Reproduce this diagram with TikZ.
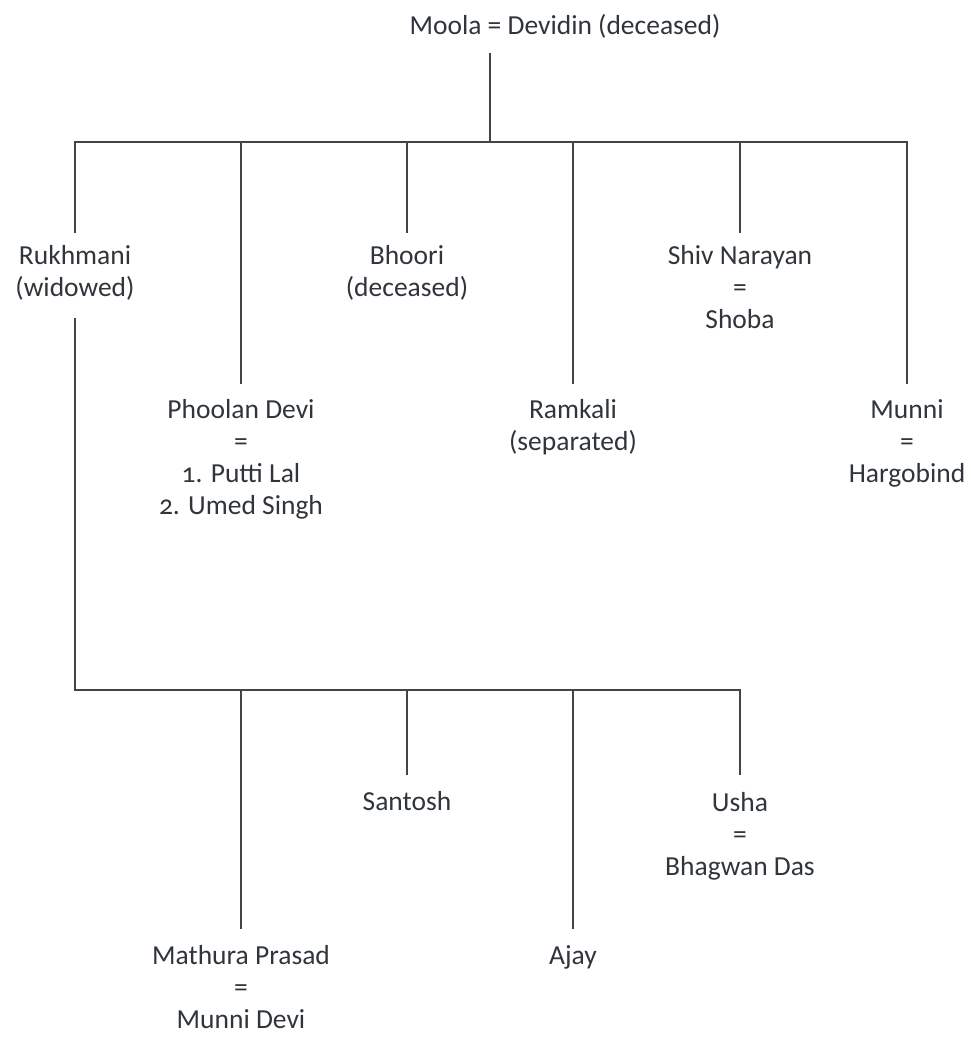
\documentclass[tikz,border=0pt]{standalone}
\usepackage{fontspec}
\setmainfont{Carlito}[Numbers=OldStyle]
\begin{document}
\begin{tikzpicture}[x=1pt,y=-1pt,
  person/.style={align=center,inner xsep=8pt,inner ysep=12pt,text=txt,
    font=\fontsize{27.5}{32}\selectfont,
    execute at begin node=\strut, execute at end node=\strut},
  lowgap/.style={inner ysep=15pt},
  link/.style={draw=ln,line width=2.6pt,line cap=butt,line join=miter}]
\definecolor{txt}{HTML}{2F353B}
\definecolor{ln}{HTML}{444444}
\useasboundingbox (0,0) rectangle (971,1038);
% top
\node[person,anchor=base,inner ysep=8pt] (moola) at (565,35) {Moola = Devidin (deceased)};
\coordinate (j0) at (490,142);
% first generation (anchor north at line ends)
\node[person,anchor=north] (rukh) at (75,233) {Rukhmani\\(widowed)};
\node[person,lowgap,anchor=north] (phool) at (241,384) {Phoolan Devi\\=\\1. Putti Lal\\2. Umed Singh};
\node[person,anchor=north] (bhoori) at (407,233) {Bhoori\\(deceased)};
\node[person,lowgap,anchor=north] (ram) at (573,384) {Ramkali\\(separated)};
\node[person,anchor=north] (shiv) at (740,233) {Shiv Narayan\\=\\Shoba};
\node[person,lowgap,anchor=north] (munni) at (907,384) {Munni\\=\\Hargobind};
% bus 1
\coordinate (b1) at (0,142);
\draw[link] (moola.south -| j0) -- (j0);
\draw[link] (rukh.north) -- (rukh.north |- b1) -- (munni.north |- b1) -- (munni.north);
\foreach \n in {phool,bhoori,ram,shiv}
  \draw[link] (\n.north |- b1) -- (\n.north);
% second generation
\node[person,anchor=north,inner ysep=16pt] (math) at (241,929) {Mathura Prasad\\=\\Munni Devi};
\node[person,anchor=north,inner ysep=13pt] (sant) at (407,775) {Santosh};
\node[person,anchor=north,inner ysep=13pt] (ajay) at (573,929) {Ajay};
\node[person,anchor=north,inner ysep=17pt] (usha) at (740,775) {Usha\\=\\Bhagwan Das};
\coordinate (b2) at (0,690);
\draw[link] (rukh.south) -- (rukh.south |- b2) -- (usha.north |- b2) -- (usha.north);
\foreach \n in {math,sant,ajay}
  \draw[link] (\n.north |- b2) -- (\n.north);
\end{tikzpicture}
\end{document}
